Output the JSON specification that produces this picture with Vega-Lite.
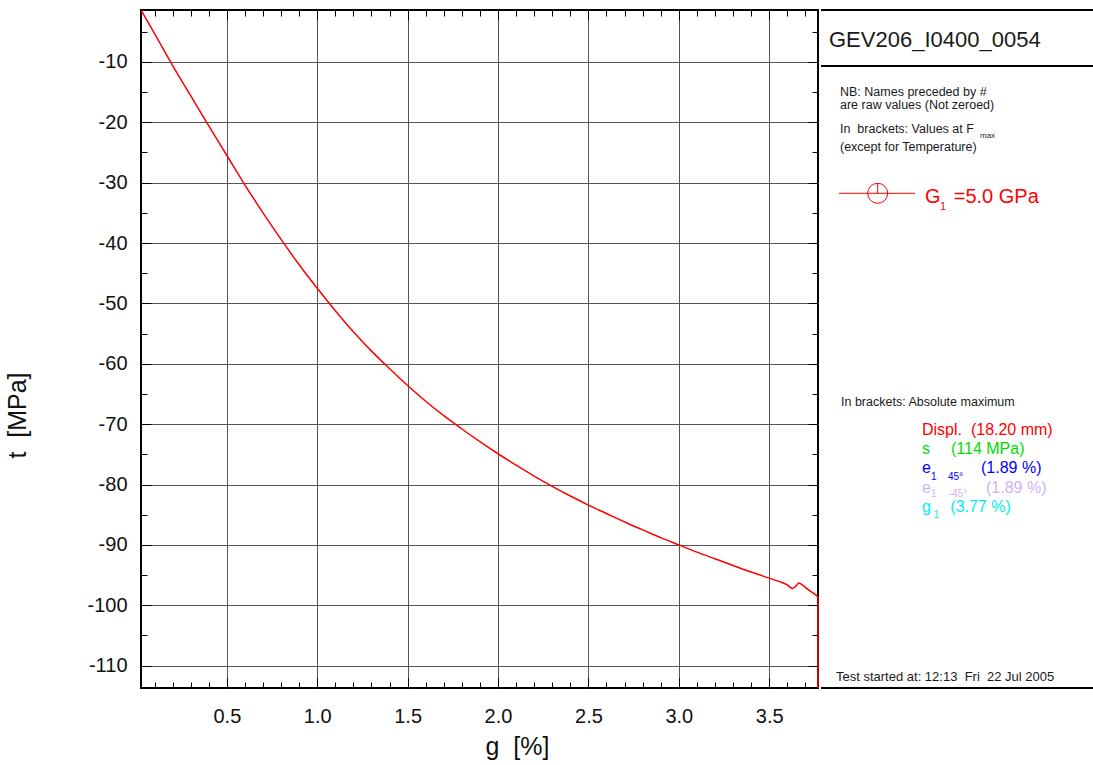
{
  "$schema": "https://vega.github.io/schema/vega-lite/v6.json",
  "padding": {"left": 4, "top": 8, "right": 0, "bottom": 0},
  "spacing": 0,
  "config": {
    "font": "Liberation Sans",
    "view": {"stroke": null},
    "axis": {"labelFont": "Liberation Sans", "titleFont": "Liberation Sans", "titleFontWeight": "normal"}
  },
  "datasets": {
    "curve": [
      {"g": 0.025, "t": -1.4}, {"g": 0.1, "t": -5.3}, {"g": 0.2, "t": -10.6}, {"g": 0.3, "t": -15.6},
      {"g": 0.4, "t": -20.6}, {"g": 0.5, "t": -25.5}, {"g": 0.6, "t": -30.4}, {"g": 0.7, "t": -35.0},
      {"g": 0.8, "t": -39.4}, {"g": 0.9, "t": -43.6}, {"g": 1.0, "t": -47.5}, {"g": 1.1, "t": -51.2},
      {"g": 1.2, "t": -54.7}, {"g": 1.3, "t": -57.9}, {"g": 1.4, "t": -60.8}, {"g": 1.5, "t": -63.6},
      {"g": 1.6, "t": -66.2}, {"g": 1.7, "t": -68.6}, {"g": 1.8, "t": -70.8}, {"g": 1.9, "t": -72.9},
      {"g": 2.0, "t": -74.9}, {"g": 2.1, "t": -76.8}, {"g": 2.2, "t": -78.6}, {"g": 2.3, "t": -80.3},
      {"g": 2.4, "t": -81.9}, {"g": 2.5, "t": -83.4}, {"g": 2.6, "t": -84.8}, {"g": 2.7, "t": -86.2},
      {"g": 2.8, "t": -87.5}, {"g": 2.9, "t": -88.8}, {"g": 3.0, "t": -90.0}, {"g": 3.1, "t": -91.2},
      {"g": 3.2, "t": -92.3}, {"g": 3.3, "t": -93.4}, {"g": 3.4, "t": -94.5}, {"g": 3.5, "t": -95.5},
      {"g": 3.55, "t": -96.0}, {"g": 3.6, "t": -96.6}, {"g": 3.628, "t": -97.2}, {"g": 3.645, "t": -96.9},
      {"g": 3.665, "t": -96.3}, {"g": 3.69, "t": -96.8}, {"g": 3.72, "t": -97.5}, {"g": 3.745, "t": -98.0},
      {"g": 3.77, "t": -98.6}
    ],
    "drop": [{"g": 3.77, "t": -98.6, "t_end": -113.7}],
    "frame": [
      {"x": 0, "x2": 274, "y": 0},
      {"x": 0, "x2": 274, "y": 56},
      {"x": 0, "x2": 274, "y": 678}
    ],
    "keyLine": [{"x": 18, "x2": 94, "y": 183.3}],
    "keyMarker": [{"x": 56.7, "y": 183.3, "y_top": 173.3}],
    "notes": [
      {"role": "title", "text": "GEV206_I0400_0054", "x": 8, "y": 37, "item": "text"},
      {"role": "note", "text": "NB: Names preceded by #", "x": 19, "y": 86, "item": "text"},
      {"role": "note", "text": "are raw values (Not zeroed)", "x": 19, "y": 99, "item": "text"},
      {"role": "note", "text": "In\u00a0\u00a0brackets: Values at F", "x": 19, "y": 123, "item": "text"},
      {"role": "sub_note", "text": "max", "x": 159, "y": 128, "item": "text"},
      {"role": "note", "text": "(except for Temperature)", "x": 19, "y": 141, "item": "text"},
      {"role": "note", "text": "In brackets: Absolute maximum", "x": 20, "y": 396, "item": "text"},
      {"role": "footer", "text": "Test started at: 12:13\u00a0\u00a0Fri\u00a0\u00a022 Jul 2005", "x": 15, "y": 670.7, "item": "text"},
      {"role": "key", "text": "G", "x": 104, "y": 192.7, "item": "G1"},
      {"role": "key", "text": "=5.0 GPa", "x": 132.7, "y": 192.7, "item": "G1"},
      {"role": "key_sub", "text": "1", "x": 119, "y": 200, "item": "G1"},
      {"role": "value", "text": "Displ.\u00a0\u00a0(18.20 mm)", "x": 101, "y": 425, "item": "displ"},
      {"role": "value", "text": "s", "x": 101, "y": 444, "item": "sigma"},
      {"role": "value", "text": "(114 MPa)", "x": 130, "y": 444, "item": "sigma"},
      {"role": "value", "text": "e", "x": 101, "y": 463.3, "item": "e45"},
      {"role": "value", "text": "(1.89 %)", "x": 160, "y": 463.3, "item": "e45"},
      {"role": "value", "text": "e", "x": 101, "y": 482.5, "item": "e-45"},
      {"role": "value", "text": "(1.89 %)", "x": 165, "y": 482.5, "item": "e-45"},
      {"role": "value", "text": "g", "x": 101, "y": 501.5, "item": "g1"},
      {"role": "value", "text": "(3.77 %)", "x": 129.3, "y": 501.5, "item": "g1"},
      {"role": "value_sub", "text": "1", "x": 110, "y": 470, "item": "e45"},
      {"role": "value_sub", "text": "45°", "x": 127, "y": 470, "item": "e45"},
      {"role": "value_sub", "text": "1", "x": 110, "y": 487, "item": "e-45"},
      {"role": "value_sub", "text": "-45°", "x": 127.7, "y": 487, "item": "e-45"},
      {"role": "value_sub", "text": "1", "x": 112.7, "y": 507.5, "item": "g1"}
    ]
  },
  "hconcat": [
    {
      "width": 677,
      "height": 678,
      "view": {"stroke": "#000000", "strokeWidth": 2},
      "resolve": {"axis": {"x": "independent", "y": "independent"}},
      "layer": [
        {
          "data": {"name": "curve"},
          "mark": {"type": "line", "color": "#ff0000", "strokeWidth": 1.5, "interpolate": "monotone", "clip": true},
          "encoding": {
            "x": {
              "field": "g", "type": "quantitative",
              "scale": {"domain": [0.025, 3.77], "nice": false, "zero": false},
              "axis": {
                "orient": "bottom",
                "values": [0.1, 0.2, 0.3, 0.4, 0.5, 0.6, 0.7, 0.8, 0.9, 1.0, 1.1, 1.2, 1.3, 1.4, 1.5, 1.6, 1.7, 1.8, 1.9, 2.0, 2.1, 2.2, 2.3, 2.4, 2.5, 2.6, 2.7, 2.8, 2.9, 3.0, 3.1, 3.2, 3.3, 3.4, 3.5, 3.6, 3.7],
                "labelExpr": "abs(datum.value * 2 - round(datum.value * 2)) < 0.000001 ? format(datum.value, '.1f') : ''",
                "labelFontSize": 20,
                "labelColor": "#111111",
                "labelPadding": 28,
                "labelOverlap": false,
                "labelFlush": false,
                "labelBound": false,
                "domain": false,
                "ticks": true,
                "tickColor": "#000000",
                "tickWidth": 1,
                "tickSize": {"condition": {"test": "abs(datum.value * 2 - round(datum.value * 2)) < 0.000001", "value": -10}, "value": -6},
                "grid": true,
                "gridColor": "#555555",
                "gridWidth": 1,
                "gridOpacity": {"condition": {"test": "abs(datum.value * 2 - round(datum.value * 2)) < 0.000001", "value": 1}, "value": 0},
                "title": "g\u00a0\u00a0[%]",
                "titleFontSize": 25,
                "titleColor": "#111111",
                "titleX": 376,
                "titleY": 66,
                "titleAlign": "center",
                "titleBaseline": "alphabetic"
              }
            },
            "y": {
              "field": "t", "type": "quantitative",
              "scale": {"domain": [-113.7, -1.4], "nice": false, "zero": false},
              "axis": {
                "orient": "left",
                "values": [-5, -10, -15, -20, -25, -30, -35, -40, -45, -50, -55, -60, -65, -70, -75, -80, -85, -90, -95, -100, -105, -110],
                "labelExpr": "datum.value % 10 == 0 ? '' + datum.value : ''",
                "labelFontSize": 20,
                "labelColor": "#111111",
                "labelPadding": 24,
                "labelOverlap": false,
                "labelFlush": false,
                "labelBound": false,
                "domain": false,
                "ticks": true,
                "tickColor": "#000000",
                "tickWidth": 1,
                "tickSize": {"condition": {"test": "datum.value % 10 == 0", "value": -10}, "value": -6},
                "grid": true,
                "gridColor": "#555555",
                "gridWidth": 1,
                "gridOpacity": {"condition": {"test": "datum.value % 10 == 0", "value": 1}, "value": 0},
                "title": "t\u00a0\u00a0[MPa]",
                "titleFontSize": 25,
                "titleColor": "#111111",
                "titleAngle": -90,
                "titleX": -116,
                "titleY": 405,
                "titleAlign": "center",
                "titleBaseline": "alphabetic"
              }
            }
          }
        },
        {
          "data": {"name": "drop"},
          "mark": {"type": "rule", "color": "#ff0000", "strokeWidth": 1.5},
          "encoding": {
            "x": {
              "field": "g", "type": "quantitative",
              "axis": {
                "orient": "top",
                "values": [0.1, 0.2, 0.3, 0.4, 0.5, 0.6, 0.7, 0.8, 0.9, 1.0, 1.1, 1.2, 1.3, 1.4, 1.5, 1.6, 1.7, 1.8, 1.9, 2.0, 2.1, 2.2, 2.3, 2.4, 2.5, 2.6, 2.7, 2.8, 2.9, 3.0, 3.1, 3.2, 3.3, 3.4, 3.5, 3.6, 3.7],
                "labels": false,
                "domain": false,
                "grid": false,
                "tickColor": "#000000",
                "tickWidth": 1,
                "tickSize": {"condition": {"test": "abs(datum.value * 2 - round(datum.value * 2)) < 0.000001", "value": -10}, "value": -6},
                "title": null
              }
            },
            "y": {
              "field": "t", "type": "quantitative",
              "axis": {
                "orient": "right",
                "values": [-5, -10, -15, -20, -25, -30, -35, -40, -45, -50, -55, -60, -65, -70, -75, -80, -85, -90, -95, -100, -105, -110],
                "labels": false,
                "domain": false,
                "grid": false,
                "tickColor": "#000000",
                "tickWidth": 1,
                "tickSize": {"condition": {"test": "datum.value % 10 == 0", "value": -10}, "value": -6},
                "title": null
              }
            },
            "y2": {"field": "t_end"}
          }
        }
      ]
    },
    {
      "width": 274,
      "height": 678,
      "view": {"stroke": null},
      "layer": [
        {
          "data": {"name": "frame"},
          "mark": {"type": "rule", "color": "#000000", "strokeWidth": 2},
          "encoding": {
            "x": {"field": "x", "type": "quantitative", "scale": {"domain": [0, 274], "nice": false, "zero": false}, "axis": null},
            "x2": {"field": "x2"},
            "y": {"field": "y", "type": "quantitative", "scale": {"domain": [0, 678], "nice": false, "zero": false, "reverse": true}, "axis": null}
          }
        },
        {
          "data": {"name": "keyLine"},
          "mark": {"type": "rule", "color": "#ff0000", "strokeWidth": 1},
          "encoding": {
            "x": {"field": "x", "type": "quantitative"},
            "x2": {"field": "x2"},
            "y": {"field": "y", "type": "quantitative"}
          }
        },
        {
          "data": {"name": "keyMarker"},
          "mark": {"type": "point", "shape": "circle", "size": 400, "color": "#ff0000", "filled": false, "strokeWidth": 1, "opacity": 1},
          "encoding": {
            "x": {"field": "x", "type": "quantitative"},
            "y": {"field": "y", "type": "quantitative"}
          }
        },
        {
          "data": {"name": "keyMarker"},
          "mark": {"type": "rule", "color": "#ff0000", "strokeWidth": 1},
          "encoding": {
            "x": {"field": "x", "type": "quantitative"},
            "y": {"field": "y_top", "type": "quantitative"},
            "y2": {"field": "y"}
          }
        },
        {
          "data": {"name": "notes"},
          "transform": [{"filter": "datum.role == 'title'"}],
          "mark": {"type": "text", "align": "left", "baseline": "alphabetic", "fontSize": 22},
          "encoding": {
            "x": {"field": "x", "type": "quantitative"},
            "y": {"field": "y", "type": "quantitative"},
            "text": {"field": "text"},
            "color": {"field": "item", "type": "nominal", "legend": null,
              "scale": {"domain": ["text", "G1", "displ", "sigma", "e45", "e-45", "g1"],
                        "range": ["#1a1a1a", "#ff0000", "#ff0000", "#00dd00", "#0000ff", "#d4b0f4", "#00eeee"]}}
          }
        },
        {
          "data": {"name": "notes"},
          "transform": [{"filter": "datum.role == 'note'"}],
          "mark": {"type": "text", "align": "left", "baseline": "alphabetic", "fontSize": 12.5},
          "encoding": {
            "x": {"field": "x", "type": "quantitative"},
            "y": {"field": "y", "type": "quantitative"},
            "text": {"field": "text"},
            "color": {"field": "item", "type": "nominal", "legend": null}
          }
        },
        {
          "data": {"name": "notes"},
          "transform": [{"filter": "datum.role == 'sub_note'"}],
          "mark": {"type": "text", "align": "left", "baseline": "alphabetic", "fontSize": 8},
          "encoding": {
            "x": {"field": "x", "type": "quantitative"},
            "y": {"field": "y", "type": "quantitative"},
            "text": {"field": "text"},
            "color": {"field": "item", "type": "nominal", "legend": null}
          }
        },
        {
          "data": {"name": "notes"},
          "transform": [{"filter": "datum.role == 'footer'"}],
          "mark": {"type": "text", "align": "left", "baseline": "alphabetic", "fontSize": 13},
          "encoding": {
            "x": {"field": "x", "type": "quantitative"},
            "y": {"field": "y", "type": "quantitative"},
            "text": {"field": "text"},
            "color": {"field": "item", "type": "nominal", "legend": null}
          }
        },
        {
          "data": {"name": "notes"},
          "transform": [{"filter": "datum.role == 'key'"}],
          "mark": {"type": "text", "align": "left", "baseline": "alphabetic", "fontSize": 20},
          "encoding": {
            "x": {"field": "x", "type": "quantitative"},
            "y": {"field": "y", "type": "quantitative"},
            "text": {"field": "text"},
            "color": {"field": "item", "type": "nominal", "legend": null}
          }
        },
        {
          "data": {"name": "notes"},
          "transform": [{"filter": "datum.role == 'key_sub'"}],
          "mark": {"type": "text", "align": "left", "baseline": "alphabetic", "fontSize": 11},
          "encoding": {
            "x": {"field": "x", "type": "quantitative"},
            "y": {"field": "y", "type": "quantitative"},
            "text": {"field": "text"},
            "color": {"field": "item", "type": "nominal", "legend": null}
          }
        },
        {
          "data": {"name": "notes"},
          "transform": [{"filter": "datum.role == 'value'"}],
          "mark": {"type": "text", "align": "left", "baseline": "alphabetic", "fontSize": 16},
          "encoding": {
            "x": {"field": "x", "type": "quantitative"},
            "y": {"field": "y", "type": "quantitative"},
            "text": {"field": "text"},
            "color": {"field": "item", "type": "nominal", "legend": null}
          }
        },
        {
          "data": {"name": "notes"},
          "transform": [{"filter": "datum.role == 'value_sub'"}],
          "mark": {"type": "text", "align": "left", "baseline": "alphabetic", "fontSize": 10},
          "encoding": {
            "x": {"field": "x", "type": "quantitative"},
            "y": {"field": "y", "type": "quantitative"},
            "text": {"field": "text"},
            "color": {"field": "item", "type": "nominal", "legend": null}
          }
        }
      ]
    }
  ]
}
